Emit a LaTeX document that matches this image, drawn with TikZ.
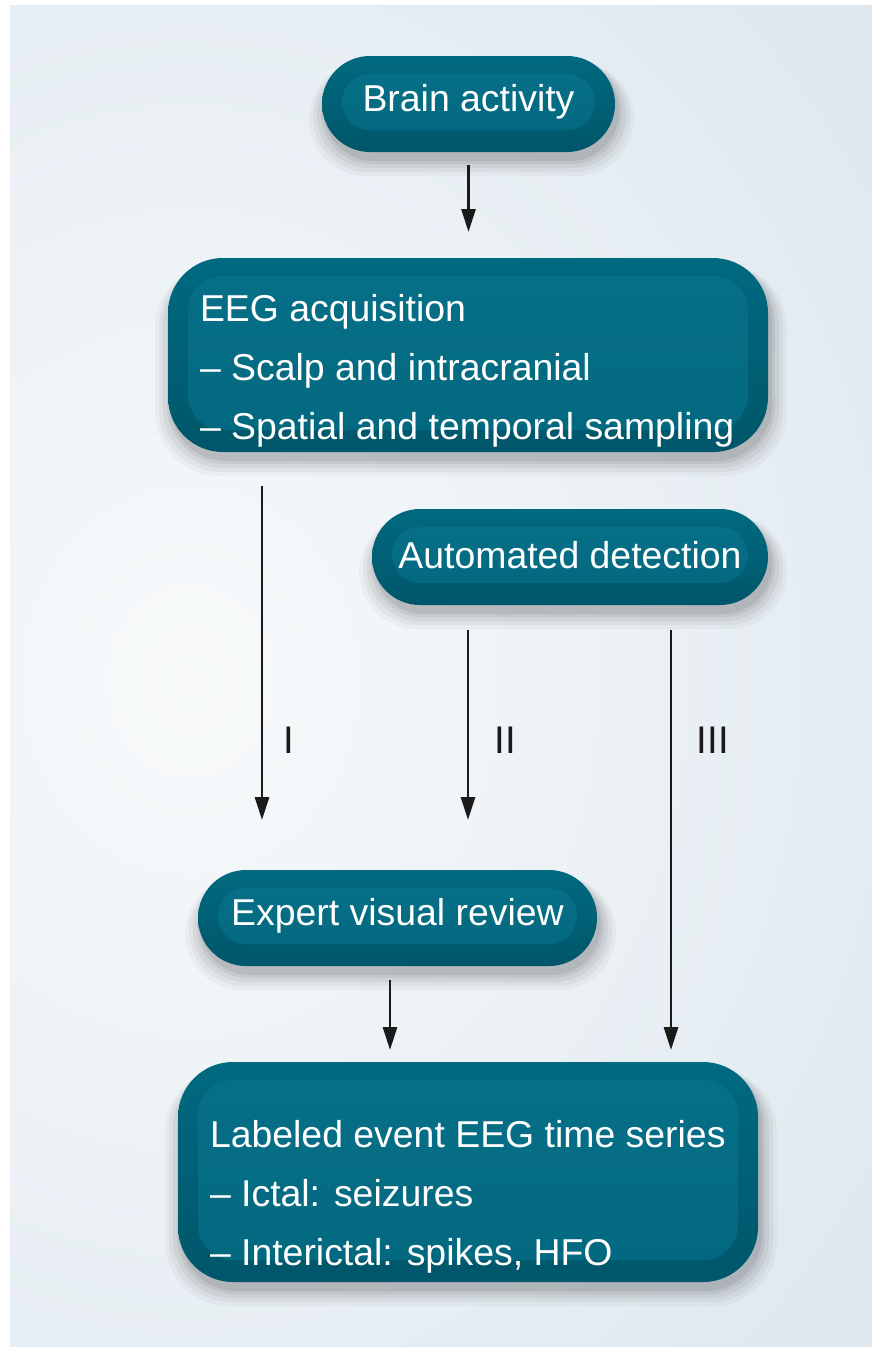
\documentclass[tikz,border=0pt]{standalone}
\usepackage{fontspec}
\newfontfamily\boxfont{Liberation Sans}
\usetikzlibrary{arrows.meta}
\pgfdeclarelayer{background}
\pgfsetlayers{background,main}
\definecolor{panel}{HTML}{D2DFE9}
\definecolor{glow}{HTML}{F8FAFB}
\definecolor{rimtop}{HTML}{006A80}
\definecolor{rimbot}{HTML}{00566A}
\definecolor{innertop}{HTML}{066F87}
\definecolor{innerbot}{HTML}{036980}
\definecolor{ink}{HTML}{1A1A1A}
% #1 node name, #2 inner corner radius
\newcommand\bevelbox[2]{%
  \begin{pgfonlayer}{background}
    \foreach \sh/\op in {16/0.03,12/0.04,8/0.05,4/0.06,1/0.07} {
      \pgfmathsetmacro\rr{#2+21+\sh/2}
      \fill[black, opacity=\op, rounded corners=\rr pt]
        ([shift={(-20-\sh+3,-12)}]#1.north west) rectangle
        ([shift={(20+\sh+3,22+\sh+8)}]#1.south east);
    }
    \pgfmathsetmacro\rr{#2+20}
    \shade[top color=rimtop, bottom color=rimbot, rounded corners=\rr pt]
      ([shift={(-20,-18)}]#1.north west) rectangle
      ([shift={(20,22)}]#1.south east);
  \end{pgfonlayer}}
\begin{document}
\begin{tikzpicture}[x=1pt,y=-1pt,
  inbox/.style={top color=innertop, bottom color=innerbot, text=white,
    font=\boxfont\fontsize{37.4}{59}\selectfont, inner sep=0pt, outer sep=0pt,
    rounded corners=#1},
  boxtext/.style={text=white, font=\boxfont\fontsize{37.4}{59}\selectfont,
    inner sep=0pt, outer sep=0pt, align=left, anchor=north west},
  lbl/.style={text=ink, font=\boxfont\fontsize{38.5}{44}\selectfont, inner sep=0pt},
  arr/.style={draw=ink, line width=2.8pt, -{Triangle[length=23pt,width=14pt]}}]
\useasboundingbox (0,0) rectangle (872,1347);
\begin{pgfonlayer}{background}
  \fill[white] (0,0) rectangle (872,1347);
  \begin{scope}
    \clip (10,5) rectangle (872,1347);
    \fill[panel] (10,5) rectangle (872,1347);
    \shade[inner color=glow, outer color=panel] (190,680) ellipse (1300 and 1500);
  \end{scope}
\end{pgfonlayer}

% boxes (inner panels; rim and shadow drawn behind)
\node[inbox=28, minimum width=253, minimum height=56] (brain) at (468.5,102) {Brain activity};
\bevelbox{brain}{28}

\node[inbox=35, minimum width=560, minimum height=154] (eeg) at (468,353) {};
\bevelbox{eeg}{35}
\node[boxtext] (eegtxt) at (200,294) {EEG acquisition\\– Scalp and intracranial\\– Spatial and temporal sampling};

\node[inbox=28, minimum width=356, minimum height=56] (auto) at (570,555) {Automated detection};
\bevelbox{auto}{28}

\node[inbox=28, minimum width=359, minimum height=56] (expert) at (397.5,916) {Expert visual review};
\bevelbox{expert}{28}

\node[inbox=35, minimum width=540, minimum height=180] (labeled) at (468,1170) {};
\bevelbox{labeled}{35}
\node[boxtext] (labtxt) at (210,1120) {Labeled event EEG time series\\– Ictal: seizures\\– Interictal: spikes, HFO};

% arrow columns
\coordinate (cI) at (262,0);
\coordinate (cII) at (468,0);
\coordinate (cIII) at (671,0);
\coordinate (cE) at (390,0);

\draw[arr, shorten <=35pt, shorten >=44pt] (brain.south) -- (brain.south |- eeg.north);
\draw[arr, shorten <=56pt, shorten >=68pt] (eeg.south -| cI) -- (expert.north -| cI);
\draw[arr, shorten <=47pt, shorten >=68pt] (auto.south -| cII) -- (expert.north -| cII);
\draw[arr, shorten <=47pt, shorten >=30pt] (auto.south -| cIII) -- (labeled.north -| cIII);
\draw[arr, shorten <=36pt, shorten >=30pt] (expert.south -| cE) -- (labeled.north -| cE);

\node[lbl] (lI) at (289,740) {I};
\node[lbl] (lII) at (505,740) {II};
\node[lbl] (lIII) at (713,740) {III};
\end{tikzpicture}
\end{document}
